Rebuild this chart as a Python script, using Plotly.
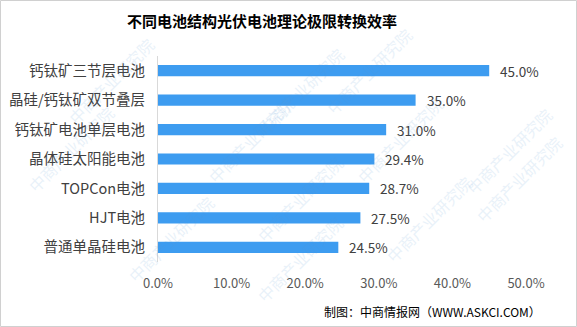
import plotly.graph_objects as go

categories = ["钙钛矿三节层电池", "晶硅/钙钛矿双节叠层", "钙钛矿电池单层电池", "晶体硅太阳能电池",
              "TOPCon电池", "HJT电池", "普通单晶硅电池"]
values = [45.0, 35.0, 31.0, 29.4, 28.7, 27.5, 24.5]
x_ticks = [0, 10, 20, 30, 40, 50]
title = "不同电池结构光伏电池理论极限转换效率"
source = "制图：中商情报网（WWW.ASKCI.COM）"

W, H = 577, 327
L, R, T, B = 158, 51, 56, 65
pw, ph = W - L - R, H - T - B

FONT = "Noto Sans CJK SC, Microsoft YaHei, sans-serif"

fig = go.Figure()
fig.add_trace(go.Bar(
    y=categories, x=values, orientation="h",
    marker=dict(color="#3d9cf0", line=dict(width=0)),
    hoverinfo="skip",
))

annotations = []
for c, v in zip(categories, values):
    annotations.append(dict(x=v, y=c, xref="x", yref="y", text=f"{v:.1f}%",
                            showarrow=False, xanchor="left", xshift=9,
                            font=dict(family=FONT, size=13.5, color="#404040")))

def px(xp):
    return (xp - L) / pw

def py(yp):
    return (H - B - yp) / ph

annotations.append(dict(x=px(262), y=py(20), xref="paper", yref="paper", text=f"<b>{title}</b>",
                        showarrow=False, xanchor="center", yanchor="middle",
                        font=dict(family=FONT, size=15, color="#000000")))
annotations.append(dict(x=px(543), y=py(311), xref="paper", yref="paper", text=source,
                        showarrow=False, xanchor="right", yanchor="middle",
                        font=dict(family=FONT, size=12, color="#000000")))

# faint watermarks
wm_positions = [(60, 30), (250, 40), (420, 20), (20, 200), (200, 140), (400, 140),
                (560, 100), (120, 290), (300, 250), (480, 270), (570, 230), (300, 310)]
for (wx, wy) in wm_positions:
    annotations.append(dict(x=px(wx), y=py(wy), xref="paper", yref="paper", text="中商产业研究院",
                            showarrow=False, textangle=-45, opacity=0.13,
                            font=dict(family=FONT, size=16, color="#5b9bd5")))

fig.update_layout(
    width=W, height=H,
    margin=dict(l=L, r=R, t=T, b=B),
    paper_bgcolor="white", plot_bgcolor="white",
    showlegend=False,
    bargap=0.62,
    annotations=annotations,
    xaxis=dict(range=[0, 50], tickvals=x_ticks, ticktext=[f"{t:.1f}%" for t in x_ticks],
               showgrid=False, zeroline=False, showline=False, ticks="", ticklabelstandoff=12,
               automargin=False,
               tickfont=dict(family=FONT, size=13, color="#595959")),
    yaxis=dict(autorange="reversed", showgrid=False, zeroline=False, automargin=False,
               showline=True, linecolor="#d9d9d9", linewidth=1, ticks="", ticklabelstandoff=9,
               tickfont=dict(family=FONT, size=14.5, color="#404040")),
    shapes=[dict(type="rect", xref="paper", yref="paper", x0=px(0.5), x1=px(W - 0.5),
                 y0=py(0.5), y1=py(H - 0.5), line=dict(color="#d0d0d0", width=1))],
)

fig.write_html("out.html")
